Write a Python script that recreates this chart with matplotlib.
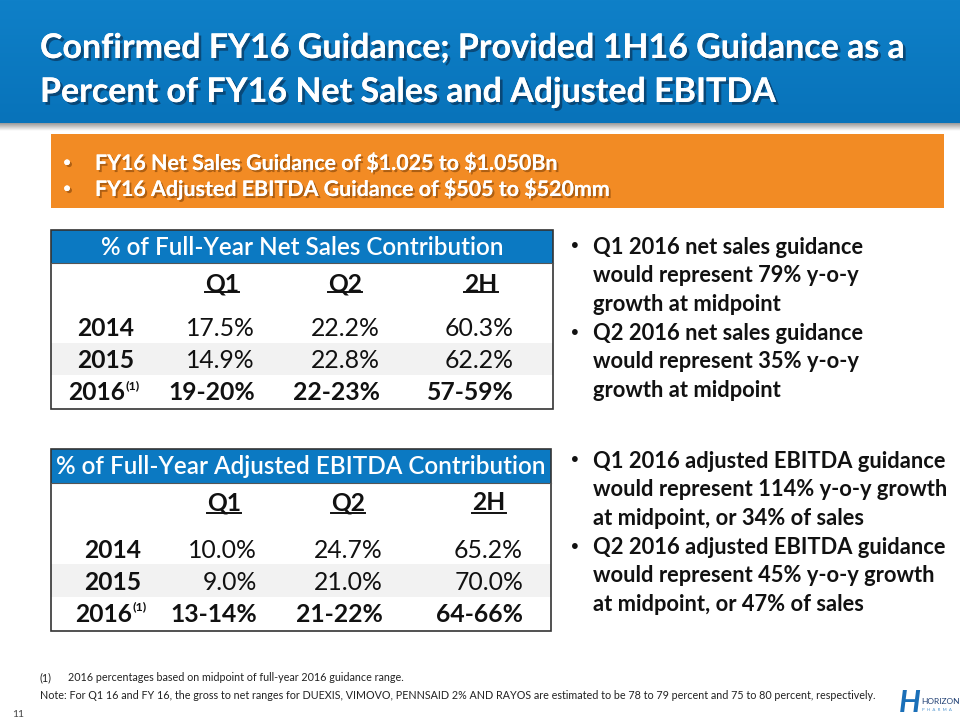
import matplotlib
matplotlib.use("Agg")
import matplotlib.pyplot as plt
import matplotlib.patheffects as pe
from matplotlib import font_manager
from matplotlib.patches import Rectangle
import numpy as np

names = {f.name for f in font_manager.fontManager.ttflist}
BODY = "Lato" if "Lato" in names else "DejaVu Sans"
NARROW = "Liberation Sans Narrow" if "Liberation Sans Narrow" in names else BODY

# --- slide content ---
title_lines = ["Confirmed FY16 Guidance; Provided 1H16 Guidance as a",
               "Percent of FY16 Net Sales and Adjusted EBITDA"]
orange_lines = ["FY16 Net Sales Guidance of $1.025 to $1.050Bn",
                "FY16 Adjusted EBITDA Guidance of $505 to $520mm"]

quarters = ["Q1", "Q2", "2H"]
years = ["2014", "2015", "2016"]

sales_title = "% of Full-Year Net Sales Contribution"
sales_vals = [["17.5%", "22.2%", "60.3%"],
              ["14.9%", "22.8%", "62.2%"],
              ["19-20%", "22-23%", "57-59%"]]

ebitda_title = "% of Full-Year Adjusted EBITDA Contribution"
ebitda_vals = [["10.0%", "24.7%", "65.2%"],
               ["9.0%", "21.0%", "70.0%"],
               ["13-14%", "21-22%", "64-66%"]]

sales_notes = [["Q1 2016 net sales guidance", "would represent 79% y-o-y", "growth at midpoint"],
               ["Q2 2016 net sales guidance", "would represent 35% y-o-y", "growth at midpoint"]]
ebitda_notes = [["Q1 2016 adjusted EBITDA guidance", "would represent 114% y-o-y growth",
                 "at midpoint, or 34% of sales"],
                ["Q2 2016 adjusted EBITDA guidance", "would represent 45% y-o-y growth",
                 "at midpoint, or 47% of sales"]]

footnote = "2016 percentages based on midpoint of full-year 2016 guidance range."
note = ("Note: For Q1 16 and FY 16, the gross to net ranges for DUEXIS, VIMOVO, PENNSAID 2% AND RAYOS "
        "are estimated to be 78 to 79 percent and 75 to 80 percent, respectively.")

BLUE = "#0B79C2"
ORANGE = "#F28B24"
SHADE = "#F2F2F2"
INK = "#111111"

fig = plt.figure(figsize=(9.6, 7.2), dpi=100)
ax = fig.add_axes([0, 0, 1, 1])
R = fig.canvas.get_renderer()


def fit(t, width):
    w = t.get_window_extent(R).width
    t.set_fontsize(t.get_fontsize() * width / w)
    return t


# title band with soft shadow
grad = np.linspace(0, 1, 50).reshape(-1, 1)
ax.imshow(grad, extent=(0, 960, 123, 0), cmap=matplotlib.colors.LinearSegmentedColormap.from_list(
    "b", ["#0F80C8", "#0873BA"]), aspect="auto", zorder=1)
sh = np.linspace(0, 1, 20).reshape(-1, 1)
ax.imshow(sh, extent=(0, 960, 131, 123), cmap=matplotlib.colors.LinearSegmentedColormap.from_list(
    "s", ["#9a9a9a", "#ffffff"]), aspect="auto", zorder=1)
ax.set_xlim(0, 960)
ax.set_ylim(720, 0)
ax.axis("off")

title_fx = [pe.withSimplePatchShadow(offset=(2, -2), shadow_rgbFace="#0a2a4a", alpha=0.6), pe.Normal()]
t1 = ax.text(40, 58, title_lines[0], color="white", weight="bold", family=NARROW,
             fontsize=28, zorder=3, path_effects=title_fx)
fit(t1, 865)
ax.text(40, 102, title_lines[1], color="white", weight="bold", family=NARROW,
        fontsize=t1.get_fontsize(), zorder=3, path_effects=title_fx)

# orange highlight box
ax.add_patch(Rectangle((51, 134), 893, 74, facecolor=ORANGE, edgecolor="none", zorder=1))
org_fx = [pe.withSimplePatchShadow(offset=(1.5, -1.5), shadow_rgbFace="#5a2a00", alpha=0.45), pe.Normal()]
o1 = ax.text(95, 170, orange_lines[0], color="white", weight="bold", family=NARROW,
             fontsize=16, zorder=3, path_effects=org_fx, parse_math=False)
fit(o1, 463)
for y, s in zip([170, 196], orange_lines):
    if s != orange_lines[0]:
        ax.text(95, y, s, color="white", weight="bold", family=NARROW, parse_math=False,
                fontsize=o1.get_fontsize(), zorder=3, path_effects=org_fx)
    ax.text(67, y - 6, "•", color="white", fontsize=14, ha="center", va="center",
            family="DejaVu Sans", zorder=3, path_effects=org_fx)

# reference sizes for table text
tmp = ax.text(0, -100, "17.5%", family=BODY, fontsize=16)
fit(tmp, 69)
VAL_FS = tmp.get_fontsize()
tmp.remove()
tmp = ax.text(0, -100, "2014", family=BODY, weight="bold", fontsize=16)
fit(tmp, 57)
BOLD_FS = tmp.get_fontsize()
tmp.remove()


def draw_table(top, head_bot, bottom, left, right, title, title_w,
               qx, q_y, ul_y, year_x, val_right, row_y, shade, vals):
    ax.add_patch(Rectangle((left, top), right - left, head_bot - top,
                           facecolor=BLUE, edgecolor="none", zorder=1))
    ax.add_patch(Rectangle((left, shade[0]), right - left, shade[1] - shade[0],
                           facecolor=SHADE, edgecolor="none", zorder=1))
    ax.add_patch(Rectangle((left, top), right - left, bottom - top,
                           facecolor="none", edgecolor="#333333", lw=1.2, zorder=4))
    ax.plot([left, right], [head_bot, head_bot], color="#555555", lw=0.8, zorder=4)
    ht = ax.text((left + right) / 2, (top + head_bot) / 2 + 1, title, color="white",
                 family=BODY, weight="semibold", ha="center", va="center", fontsize=16, zorder=3)
    fit(ht, title_w)
    for x, q in zip(qx, quarters):
        qt = ax.text(x, q_y, q, family=BODY, weight="bold", fontsize=BOLD_FS,
                     ha="center", va="center", color=INK, zorder=3)
        bb = qt.get_window_extent(R)
        ax.plot([bb.x0, bb.x1], [ul_y, ul_y], color=INK, lw=1.4, zorder=3)
    for i, (yr, y) in enumerate(zip(years, row_y)):
        last = i == len(years) - 1
        if last:
            yt = ax.text(year_x - 9, y, yr, family=BODY, weight="bold", fontsize=BOLD_FS,
                         ha="center", va="center", color=INK, zorder=3)
            ax.annotate("(1)", xy=(1, 0.8), xycoords=yt, xytext=(0.3, 0), textcoords="offset points",
                        family=BODY, weight="bold", fontsize=BOLD_FS * 0.5, ha="left", va="center",
                        color=INK, zorder=3)
        else:
            ax.text(year_x, y, yr, family=BODY, weight="bold", fontsize=BOLD_FS,
                    ha="center", va="center", color=INK, zorder=3)
        for xr, v in zip(val_right, vals[i]):
            ax.text(xr, y, v, family=BODY, weight="bold" if last else "normal",
                    fontsize=VAL_FS, ha="right", va="center", color=INK, zorder=3)


draw_table(230, 263, 409, 51, 553, sales_title, 403,
           [222, 345, 481], 284, 292, 106, [255, 380, 514], [328, 361, 393],
           (343, 375), sales_vals)
draw_table(449, 483, 631, 51, 551, ebitda_title, 490,
           [224, 348, 489], 503, 513, 113, [257, 383, 523], [550, 582, 614],
           (564, 597), ebitda_vals)

# right-hand commentary
tmp = ax.text(0, -100, ebitda_notes[0][1], family=BODY, weight="bold", fontsize=15)
fit(tmp, 356)
NOTE_FS = tmp.get_fontsize()
tmp.remove()


def bullets(y0, groups):
    y = y0
    for g in groups:
        ax.text(575, y, "•", family="DejaVu Sans", fontsize=NOTE_FS * 0.9,
                ha="center", va="center", color=INK)
        for line in g:
            ax.text(593, y, line, family=BODY, weight="bold", fontsize=NOTE_FS,
                    va="center", color=INK)
            y += 28.7


bullets(247, sales_notes)
bullets(461, ebitda_notes)

# footnotes
nt = ax.text(40, 699, note, family=NARROW, fontsize=9, color="#222222")
fit(nt, 840)
ax.text(40, 681, "(1)", family=NARROW, fontsize=nt.get_fontsize(), color="#222222")
ax.text(68, 681, footnote, family=NARROW, fontsize=nt.get_fontsize(), color="#222222")
ax.text(12, 717, "11", family=NARROW, fontsize=nt.get_fontsize() * 0.95, color="#444444")

# logo
ax.text(910, 703, "H", family=BODY, weight="bold", style="italic", fontsize=22,
        color="#1a6fb8", ha="center", va="center")
ax.text(921, 701, "HORIZON", family=BODY, fontsize=6, color="#1f3f73", va="center")
ax.text(922, 710, "P  H  A  R  M  A", family=BODY, fontsize=3.2, color="#4f95cf", va="center")

fig.savefig("out.png", dpi=100)
